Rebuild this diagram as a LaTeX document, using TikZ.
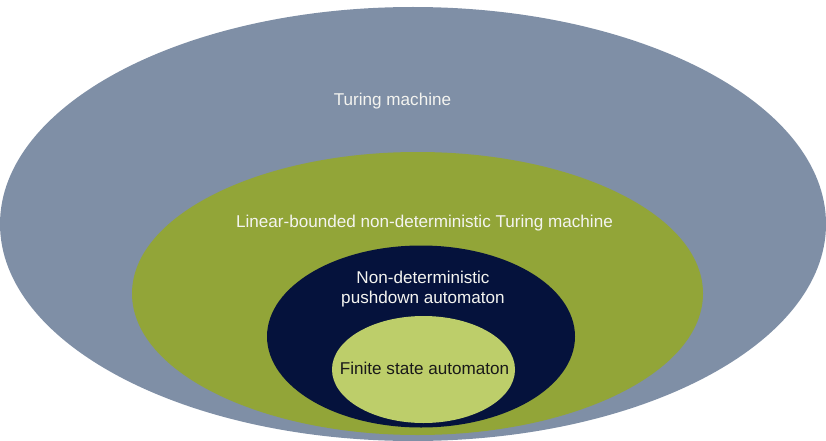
\documentclass[tikz,border=0pt]{standalone}
\usepackage{fontspec}
\setmainfont{Liberation Sans}
\usetikzlibrary{shapes.geometric}

\definecolor{tmgrey}{RGB}{127,143,166}
\definecolor{lbagreen}{RGB}{146,165,56}
\definecolor{pdanavy}{RGB}{5,18,60}
\definecolor{fsalime}{RGB}{189,206,106}
\definecolor{lbltext}{RGB}{244,244,240}

\begin{document}
\begin{tikzpicture}[
        x=1pt, y=-1pt,
        class/.style={ellipse, draw=none, inner sep=0pt, outer sep=0pt},
        lbl/.style={font=\fontsize{17.1}{19.5}\selectfont, align=center, inner sep=0pt, text=lbltext}
    ]
\useasboundingbox (0,0) rectangle (826,441);

        % nested language classes, largest first
        \node[class, fill=tmgrey, minimum width=826pt, minimum height=434pt] (tm) at (413,224) {};
        \node[class, fill=lbagreen, minimum width=571pt, minimum height=283pt] (lba) at (417.5,293.5) {};
        \node[class, fill=pdanavy, minimum width=308pt, minimum height=182pt] (pda) at (421,336.5) {};
        \node[class, fill=fsalime, minimum width=183pt, minimum height=107pt] (fsa) at (423.5,369.5) {};

        \node[lbl, anchor=base] (tmtext) at (392.5,106) {Turing machine};
        \node[lbl, anchor=base] (lbatext) at (424.5,227) {Linear-bounded non-deterministic Turing machine};
        \node[lbl] (pdatext) at (423,289) {Non-deterministic\\pushdown automaton};
        \node[lbl, anchor=base, text=black!90] (fsatext) at (424.5,374) {Finite state automaton};

    \end{tikzpicture}
\end{document}
